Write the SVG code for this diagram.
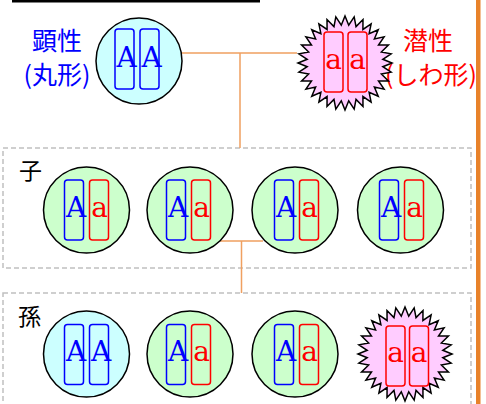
<svg xmlns="http://www.w3.org/2000/svg" xmlns:xlink="http://www.w3.org/1999/xlink" width="486" height="404" viewBox="0 0 486 404">
  <style>
    .cell-dom { fill: #ccffff; stroke: #000; stroke-width: 1.5; }
    .cell-het { fill: #ccffcc; stroke: #000; stroke-width: 1.5; }
    .cell-rec { fill: #ffccff; stroke: #000; stroke-width: 1.5; }
    .chr-A { fill: none; stroke: #0000ff; stroke-width: 1.5; }
    .chr-a { fill: none; stroke: #ff0000; stroke-width: 1.5; }
    .gA { font-family: "DejaVu Serif", "Liberation Serif", serif; font-size: 28px; fill: #0000ff; text-anchor: middle; }
    .ga { font-family: "DejaVu Serif", "Liberation Serif", serif; font-size: 28px; fill: #ff0000; text-anchor: middle; }
    .lbl { font-family: "Noto Sans CJK JP", "Noto Sans", sans-serif; font-size: 25px; text-anchor: middle; }
    .gen { font-family: "Noto Sans CJK JP", "Noto Sans", sans-serif; font-size: 23px; fill: #000; }
    .frame { fill: none; stroke: #c0c0c0; stroke-width: 1.5; stroke-dasharray: 5 3; }
    .link { fill: none; stroke: #f0a060; stroke-width: 1.5; }
  </style>
  <defs>
    <polygon id="burst" points="47,0 37.82,3.72 46.10,9.17 36.36,11.03 43.42,17.99 33.51,17.91 39.08,26.11 29.37,24.11 33.23,33.23 24.11,29.37 26.11,39.08 17.91,33.51 17.99,43.42 11.03,36.36 9.17,46.10 3.72,37.82 0,47 -3.72,37.82 -9.17,46.10 -11.03,36.36 -17.99,43.42 -17.91,33.51 -26.11,39.08 -24.11,29.37 -33.23,33.23 -29.37,24.11 -39.08,26.11 -33.51,17.91 -43.42,17.99 -36.36,11.03 -46.10,9.17 -37.82,3.72 -47,0 -37.82,-3.72 -46.10,-9.17 -36.36,-11.03 -43.42,-17.99 -33.51,-17.91 -39.08,-26.11 -29.37,-24.11 -33.23,-33.23 -24.11,-29.37 -26.11,-39.08 -17.91,-33.51 -17.99,-43.42 -11.03,-36.36 -9.17,-46.10 -3.72,-37.82 0,-47 3.72,-37.82 9.17,-46.10 11.03,-36.36 17.99,-43.42 17.91,-33.51 26.11,-39.08 24.11,-29.37 33.23,-33.23 29.37,-24.11 39.08,-26.11 33.51,-17.91 43.42,-17.99 36.36,-11.03 46.10,-9.17 37.82,-3.72"/>
  </defs>

  <rect width="486" height="404" fill="#fff"/>
  <!-- header rule and side bar -->
  <rect x="12" y="0" width="248" height="2.5" fill="#000"/>
  <rect x="476" y="0" width="4.5" height="404" fill="#e8822a"/>

  <!-- generation frames -->
  <rect class="frame" x="3" y="148" width="468" height="120"/>
  <rect class="frame" x="3" y="293" width="468" height="130"/>
  <text class="gen" x="19" y="179">子</text>
  <text class="gen" x="18" y="325">孫</text>

  <!-- connectors -->
  <g id="connectors">
    <path class="link" d="M181 53 H297 M240 53 V148"/>
    <path class="link" d="M220 241 H263 M241.5 241 V293"/>
  </g>

  <!-- parents -->
  <g id="parent-dominant">
    <text class="lbl" x="57" y="50" fill="#0000ff">顕性</text>
    <text class="lbl" x="57" y="84" fill="#0000ff">(丸形)</text>
    <circle class="cell-dom" cx="139" cy="61" r="43"/>
    <rect class="chr-A" x="115" y="29" width="19" height="60" rx="3"/>
    <rect class="chr-A" x="140" y="29" width="19" height="60" rx="3"/>
    <text class="gA" x="126.5" y="67">A</text>
    <text class="gA" x="151.5" y="67">A</text>
  </g>
  <g id="parent-recessive">
    <text class="lbl" x="428" y="50" fill="#ff0000">潜性</text>
    <text class="lbl" x="431" y="84" fill="#ff0000">(しわ形)</text>
    <use xlink:href="#burst" href="#burst" class="cell-rec" x="345" y="63"/>
    <rect class="chr-a" x="324" y="32" width="19" height="60" rx="3"/>
    <rect class="chr-a" x="348" y="32" width="19" height="60" rx="3"/>
    <text class="ga" x="333.5" y="69">a</text>
    <text class="ga" x="357.5" y="69">a</text>
  </g>

  <!-- first generation: all Aa -->
  <g id="child-1">
    <circle class="cell-het" cx="86.5" cy="210" r="43"/>
    <rect class="chr-A" x="64.5" y="180" width="19" height="60" rx="3"/>
    <rect class="chr-a" x="89.5" y="180" width="19" height="60" rx="3"/>
    <text class="gA" x="76" y="217">A</text>
    <text class="ga" x="99.5" y="217">a</text>
  </g>
  <g id="child-2">
    <circle class="cell-het" cx="190" cy="210" r="43"/>
    <rect class="chr-A" x="166.5" y="180" width="19" height="60" rx="3"/>
    <rect class="chr-a" x="191.5" y="180" width="19" height="60" rx="3"/>
    <text class="gA" x="178" y="217">A</text>
    <text class="ga" x="201.5" y="217">a</text>
  </g>
  <g id="child-3">
    <circle class="cell-het" cx="295" cy="210" r="43"/>
    <rect class="chr-A" x="274.5" y="180" width="19" height="60" rx="3"/>
    <rect class="chr-a" x="299.5" y="180" width="19" height="60" rx="3"/>
    <text class="gA" x="286" y="217">A</text>
    <text class="ga" x="309.5" y="217">a</text>
  </g>
  <g id="child-4">
    <circle class="cell-het" cx="400.5" cy="210" r="43"/>
    <rect class="chr-A" x="379.5" y="180" width="19" height="60" rx="3"/>
    <rect class="chr-a" x="404.5" y="180" width="19" height="60" rx="3"/>
    <text class="gA" x="391" y="217">A</text>
    <text class="ga" x="414.5" y="217">a</text>
  </g>

  <!-- second generation: AA, Aa, Aa, aa -->
  <g id="grandchild-1">
    <circle class="cell-dom" cx="86.5" cy="354" r="43"/>
    <rect class="chr-A" x="64.5" y="324.5" width="19" height="60" rx="3"/>
    <rect class="chr-A" x="89.5" y="324.5" width="19" height="60" rx="3"/>
    <text class="gA" x="76" y="361">A</text>
    <text class="gA" x="101" y="361">A</text>
  </g>
  <g id="grandchild-2">
    <circle class="cell-het" cx="190" cy="354" r="43"/>
    <rect class="chr-A" x="166.5" y="324.5" width="19" height="60" rx="3"/>
    <rect class="chr-a" x="191.5" y="324.5" width="19" height="60" rx="3"/>
    <text class="gA" x="178" y="361">A</text>
    <text class="ga" x="201.5" y="361">a</text>
  </g>
  <g id="grandchild-3">
    <circle class="cell-het" cx="295" cy="354" r="43"/>
    <rect class="chr-A" x="274.5" y="324.5" width="19" height="60" rx="3"/>
    <rect class="chr-a" x="299.5" y="324.5" width="19" height="60" rx="3"/>
    <text class="gA" x="286" y="361">A</text>
    <text class="ga" x="309.5" y="361">a</text>
  </g>
  <g id="grandchild-4">
    <use xlink:href="#burst" href="#burst" class="cell-rec" x="405" y="354"/>
    <rect class="chr-a" x="386" y="326" width="19" height="60" rx="3"/>
    <rect class="chr-a" x="409.5" y="326" width="19" height="60" rx="3"/>
    <text class="ga" x="395.5" y="362">a</text>
    <text class="ga" x="419" y="362">a</text>
  </g>
</svg>
